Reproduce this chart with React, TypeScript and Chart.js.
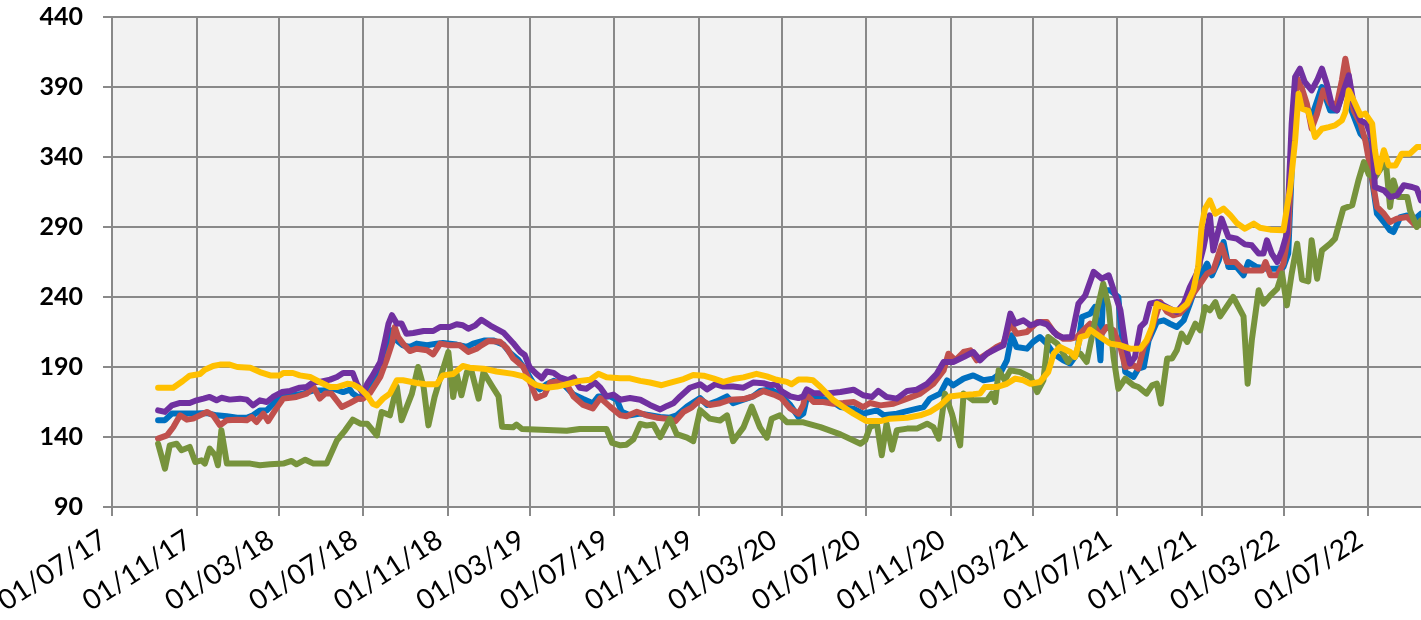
import { useEffect, useRef } from "react";
import { Chart, registerables } from "chart.js";

Chart.register(...registerables);

type Pt = [string, number];

const xTickDates = [
  "2017-07-01", "2017-11-01", "2018-03-01", "2018-07-01", "2018-11-01", "2019-03-01",
  "2019-07-01", "2019-11-01", "2020-03-01", "2020-07-01", "2020-11-01", "2021-03-01",
  "2021-07-01", "2021-11-01", "2022-03-01", "2022-07-01",
];
const xMinDate = "2017-07-01";
const xMaxDate = "2022-09-16";
const yTicks = [90, 140, 190, 240, 290, 340, 390, 440];

const yellowSeries: Pt[] = [
  ["2017-09-06",175.2],["2017-09-28",175.2],["2017-10-12",180],["2017-10-22",183.8],["2017-11-06",185],["2017-11-13",188],["2017-11-25",190.7],["2017-12-05",191.7],["2017-12-19",191.7],["2017-12-30",190],
  ["2018-01-18",189.5],["2018-02-01",186.4],["2018-02-16",184],["2018-03-02",184],["2018-03-07",185.7],["2018-03-21",185.7],["2018-03-31",184],["2018-04-15",182.9],["2018-04-29",179.3],["2018-05-14",175.7],
  ["2018-05-24",175.7],["2018-06-08",178],["2018-06-16",177.6],["2018-06-27",174.5],["2018-07-07",169.8],["2018-07-15",163.8],["2018-07-21",162.6],["2018-07-30",167.4],["2018-08-09",171],["2018-08-19",180.5],
  ["2018-08-28",180.5],["2018-09-17",178.6],["2018-10-02",177.6],["2018-10-16",177.6],["2018-10-25",184],["2018-11-09",185],["2018-11-23",190.7],["2018-12-03",189.5],["2018-12-23",188.8],["2019-01-11",186.8],
  ["2019-02-04",185.1],["2019-02-19",183.3],["2019-02-28",180.1],["2019-03-10",177],["2019-03-25",175.2],["2019-04-09",176],["2019-04-23",177.7],["2019-05-12",180.1],["2019-05-27",180.9],["2019-06-08",185.1],
  ["2019-06-20",182.6],["2019-07-10",181.9],["2019-07-24",181.9],["2019-08-08",180.1],["2019-08-22",178.9],["2019-09-08",177],["2019-09-25",179.4],["2019-10-10",181.4],["2019-10-24",184.3],["2019-11-08",183.8],
  ["2019-11-22",181.9],["2019-12-07",179.4],["2019-12-21",181.4],["2020-01-05",182.6],["2020-01-24",185.1],["2020-02-08",183.3],["2020-02-22",180.9],["2020-03-08",179.4],["2020-03-15",177.7],["2020-03-25",181],
  ["2020-04-06",181],["2020-04-15",180.5],["2020-04-26",175.7],["2020-05-15",166.2],["2020-05-29",161.4],["2020-06-13",156.7],["2020-07-02",151.4],["2020-07-22",151.4],["2020-08-05",153.1],["2020-08-30",153.8],
  ["2020-09-18",155.5],["2020-10-02",157.9],["2020-10-17",162.6],["2020-10-31",169],["2020-11-15",169.8],["2020-12-04",170.5],["2020-12-14",171],["2020-12-21",175.7],["2021-01-07",175.7],["2021-01-22",178],
  ["2021-02-03",181.7],["2021-02-15",180.5],["2021-02-25",178],["2021-03-11",179.3],["2021-03-23",186.4],["2021-03-31",199.5],["2021-04-09",204.3],["2021-04-24",200.7],["2021-05-01",197.1],["2021-05-09",211.4],
  ["2021-05-18",212.6],["2021-05-23",216.7],["2021-06-07",211.4],["2021-06-21",206.7],["2021-07-06",205.5],["2021-07-20",203.1],["2021-08-04",203.1],["2021-08-13",209],["2021-08-21",218.6],["2021-08-28",235.2],
  ["2021-09-07",232.9],["2021-09-21",230.5],["2021-09-30",230.5],["2021-10-11",235.2],["2021-10-20",244.8],["2021-10-27",261.4],["2021-11-01",290],["2021-11-06",303.1],["2021-11-13",309],["2021-11-21",299.5],
  ["2021-12-03",303.1],["2021-12-13",298.3],["2021-12-22",292.9],["2022-01-03",288.8],["2022-01-16",292.4],["2022-01-25",289.5],["2022-02-09",288.1],["2022-02-28",287.6],["2022-03-10",318.6],["2022-03-17",351.9],
  ["2022-03-22",385.2],["2022-03-27",374.5],["2022-04-05",372.9],["2022-04-15",354.3],["2022-04-25",360.2],["2022-05-05",361.4],["2022-05-14",362.6],["2022-05-24",366.2],["2022-05-29",372.1],["2022-06-03",387.6],
  ["2022-06-10",380.5],["2022-06-20",369.8],["2022-06-27",371],["2022-07-07",363.8],["2022-07-11",344.8],["2022-07-16",329.3],["2022-07-24",344.8],["2022-07-31",334],["2022-08-10",334],["2022-08-19",342.4],
  ["2022-08-31",342.4],["2022-09-10",347.1],["2022-09-23",347.1],
];

const purpleSeries: Pt[] = [
  ["2017-09-06",159],["2017-09-16",157.9],["2017-09-26",162.6],["2017-10-08",164.3],["2017-10-22",164.3],["2017-11-01",166.2],["2017-11-11",167.4],["2017-11-20",168.6],["2017-11-30",166.2],["2017-12-07",168],
  ["2017-12-19",166.7],["2018-01-03",167.4],["2018-01-13",166.7],["2018-01-22",162.6],["2018-02-01",166.2],["2018-02-11",165],["2018-02-20",168.6],["2018-03-05",172.1],["2018-03-17",172.9],["2018-03-31",175.2],
  ["2018-04-10",175.7],["2018-04-20",179.3],["2018-04-29",179.3],["2018-05-14",181],["2018-05-24",182.9],["2018-06-02",185.7],["2018-06-16",185.7],["2018-06-22",178],["2018-07-01",171],["2018-07-07",178],
  ["2018-07-15",184],["2018-07-26",193.6],["2018-08-02",209],["2018-08-07",221],["2018-08-12",227],["2018-08-19",221],["2018-08-26",221],["2018-09-02",213.8],["2018-09-12",214.3],["2018-09-27",215.7],
  ["2018-10-11",215.7],["2018-10-21",218.6],["2018-11-04",218.6],["2018-11-14",220.5],["2018-11-23",219.8],["2018-12-01",217.4],["2018-12-11",219.6],["2018-12-20",223.7],["2019-01-02",219.6],["2019-01-21",214.6],
  ["2019-02-04",207.2],["2019-02-14",201.1],["2019-02-21",198.6],["2019-02-28",190],["2019-03-10",185.1],["2019-03-18",181.9],["2019-03-25",186.8],["2019-04-04",185.8],["2019-04-13",182.6],["2019-04-25",180.6],
  ["2019-05-03",182.6],["2019-05-12",175.2],["2019-05-22",174.5],["2019-06-03",178.9],["2019-06-11",175.2],["2019-06-20",169],["2019-06-30",170.3],["2019-07-10",166.6],["2019-07-24",167.8],["2019-08-08",166.6],
  ["2019-08-22",162.9],["2019-09-06",159.7],["2019-09-16",162.2],["2019-09-25",164.1],["2019-10-05",169],["2019-10-19",175.2],["2019-11-03",177.7],["2019-11-13",174],["2019-11-25",177.7],["2019-12-07",176],
  ["2019-12-21",176],["2020-01-05",175.2],["2020-01-19",178.9],["2020-02-03",178.4],["2020-02-13",177],["2020-02-22",177.7],["2020-02-29",172.8],["2020-03-13",169],["2020-03-25",167.8],["2020-04-01",169],
  ["2020-04-06",174],["2020-04-16",171.4],["2020-05-05",171],["2020-05-25",172.1],["2020-06-13",173.8],["2020-06-27",169.8],["2020-07-10",168.6],["2020-07-19",172.9],["2020-07-31",168.6],["2020-08-15",167.4],
  ["2020-08-30",172.9],["2020-09-13",173.8],["2020-09-28",178],["2020-10-12",185.2],["2020-10-22",193.6],["2020-11-05",193.6],["2020-11-20",197.1],["2020-12-04",200.7],["2020-12-14",194.8],["2020-12-24",199.5],
  ["2021-01-07",203.1],["2021-01-17",205.5],["2021-01-27",228.1],["2021-02-03",221],["2021-02-15",223.3],["2021-02-25",219.8],["2021-03-11",222.1],["2021-03-21",220.5],["2021-04-05",212.6],["2021-04-14",211],
  ["2021-04-26",211.4],["2021-05-06",235.2],["2021-05-16",241.2],["2021-05-28",257.9],["2021-06-09",253.1],["2021-06-19",255.5],["2021-06-28",242.4],["2021-07-06",230.5],["2021-07-13",206.7],["2021-07-20",192.4],
  ["2021-07-27",197],["2021-08-04",218.6],["2021-08-11",222.1],["2021-08-18",235.2],["2021-08-28",236.4],["2021-09-07",234],["2021-09-16",231.7],["2021-09-26",229.3],["2021-10-06",235.2],["2021-10-15",247.1],
  ["2021-10-25",256.7],["2021-11-04",275.7],["2021-11-13",298.3],["2021-11-18",273.3],["2021-11-30",296],["2021-12-10",282.9],["2021-12-22",281.7],["2022-01-03",277.6],["2022-01-13",276.9],["2022-01-23",271],
  ["2022-01-30",271],["2022-02-04",280.5],["2022-02-11",271],["2022-02-19",265],["2022-02-26",273.3],["2022-03-05",285.2],["2022-03-12",363.8],["2022-03-17",397.1],["2022-03-24",403.1],["2022-03-31",393.6],
  ["2022-04-10",387.6],["2022-04-18",394.8],["2022-04-25",403.1],["2022-05-02",392.4],["2022-05-10",375.7],["2022-05-17",373.3],["2022-05-26",386.4],["2022-06-03",398.3],["2022-06-10",378.1],["2022-06-20",366.2],
  ["2022-06-29",363.8],["2022-07-07",353.1],["2022-07-11",318.6],["2022-07-24",316.2],["2022-08-02",311.4],["2022-08-12",312.6],["2022-08-22",319.8],["2022-09-03",318.6],["2022-09-10",317.4],["2022-09-16",309],
  ["2022-09-23",308],
];

const redSeries: Pt[] = [
  ["2017-09-06",138.8],["2017-09-19",141.2],["2017-09-28",147],["2017-10-08",155.5],["2017-10-18",152.4],["2017-10-27",153.1],["2017-11-16",157.9],["2017-11-25",155.5],["2017-12-05",148.3],["2017-12-15",152],
  ["2017-12-30",152.4],["2018-01-13",152],["2018-01-20",154.3],["2018-01-27",150.7],["2018-02-06",156.7],["2018-02-13",151.4],["2018-02-23",159],["2018-03-07",167.4],["2018-03-17",168],["2018-03-26",168.6],
  ["2018-04-10",171],["2018-04-20",175.7],["2018-04-29",167.4],["2018-05-07",171],["2018-05-16",171],["2018-05-31",161.4],["2018-06-12",164.3],["2018-06-24",167.4],["2018-07-01",167.4],["2018-07-11",171.4],
  ["2018-07-26",182.9],["2018-08-04",194.8],["2018-08-12",206.7],["2018-08-16",218.6],["2018-08-21",211.4],["2018-08-28",206.7],["2018-09-07",201.4],["2018-09-17",203.1],["2018-10-02",202],["2018-10-11",199],
  ["2018-10-21",206.7],["2018-11-04",205.5],["2018-11-19",205.5],["2018-12-01",200.7],["2018-12-13",203.1],["2018-12-18",204.8],["2018-12-30",208.5],["2019-01-16",208],["2019-01-26",203.5],["2019-02-04",196.2],
  ["2019-02-19",190],["2019-02-28",180.1],["2019-03-10",167.8],["2019-03-22",170.3],["2019-03-30",178.9],["2019-04-09",179.4],["2019-04-23",177.7],["2019-05-03",169],["2019-05-17",162.9],["2019-05-31",160.4],
  ["2019-06-11",167.8],["2019-06-25",161.7],["2019-07-10",155.5],["2019-07-19",154.8],["2019-08-03",158],["2019-08-17",155.5],["2019-09-01",153.8],["2019-09-16",153.1],["2019-09-28",151.3],["2019-10-10",158],
  ["2019-10-22",161.2],["2019-11-03",166.6],["2019-11-17",162.9],["2019-12-02",164.1],["2019-12-17",166.6],["2020-01-05",167.1],["2020-01-19",169],["2020-02-03",172.8],["2020-02-18",170.3],["2020-02-29",167.8],
  ["2020-03-13",160.4],["2020-03-25",156.7],["2020-04-01",162.9],["2020-04-04",171],["2020-04-16",165],["2020-04-30",165],["2020-05-15",163.8],["2020-05-29",164.3],["2020-06-13",165],["2020-06-27",161.4],
  ["2020-07-07",164.3],["2020-07-22",162.6],["2020-08-10",163.8],["2020-08-30",167.4],["2020-09-18",171],["2020-10-07",178],["2020-10-22",187.6],["2020-10-29",199.5],["2020-11-08",194.8],["2020-11-20",200.7],
  ["2020-11-30",201.9],["2020-12-09",194.8],["2020-12-24",199.5],["2021-01-07",204.3],["2021-01-17",206.7],["2021-01-27",221],["2021-02-05",213.8],["2021-02-20",215],["2021-03-07",222.1],["2021-03-21",222.1],
  ["2021-03-31",215],["2021-04-14",210.2],["2021-04-24",210.2],["2021-05-04",211.4],["2021-05-13",216.2],["2021-05-23",221],["2021-05-30",218.6],["2021-06-07",212.6],["2021-06-16",218.6],["2021-06-26",216.2],
  ["2021-07-06",204.3],["2021-07-13",190],["2021-07-25",191.2],["2021-08-01",188.8],["2021-08-09",204.3],["2021-08-16",210.2],["2021-08-26",225.7],["2021-09-02",236.4],["2021-09-12",229.3],["2021-09-21",226.9],
  ["2021-09-30",228.1],["2021-10-11",234],["2021-10-20",242.4],["2021-10-30",249.5],["2021-11-09",256.7],["2021-11-18",259],["2021-11-30",276.9],["2021-12-08",265],["2021-12-20",265],["2022-01-01",259],
  ["2022-01-16",259],["2022-01-28",259],["2022-02-02",265],["2022-02-09",255.5],["2022-02-19",255.5],["2022-02-28",263.8],["2022-03-07",285.2],["2022-03-15",371],["2022-03-20",396],["2022-03-27",388.8],
  ["2022-04-03",378.1],["2022-04-10",360.2],["2022-04-18",371],["2022-04-27",387.6],["2022-05-07",378.1],["2022-05-17",378.1],["2022-05-24",394.8],["2022-05-29",410.2],["2022-06-03",397.1],["2022-06-10",373.3],
  ["2022-06-20",363.8],["2022-06-27",351.9],["2022-07-04",332.9],["2022-07-14",304.3],["2022-07-24",299.5],["2022-08-02",293.6],["2022-08-12",296],["2022-08-27",297.1],["2022-09-08",291.2],["2022-09-16",292],
  ["2022-09-23",292],
];

const blueSeries: Pt[] = [
  ["2017-09-06",152],["2017-09-16",152],["2017-09-26",156.7],["2017-10-12",156.7],["2017-11-01",156.7],["2017-11-16",157.1],["2017-11-30",155.5],["2017-12-15",154.8],["2017-12-30",153.8],["2018-01-13",153.8],
  ["2018-01-22",155.5],["2018-02-01",159],["2018-02-11",159],["2018-02-25",166.2],["2018-03-07",169.8],["2018-03-21",169.8],["2018-04-05",171],["2018-04-20",173.3],["2018-05-04",173.3],["2018-05-19",174.5],
  ["2018-06-02",172.1],["2018-06-12",173.8],["2018-06-16",171],["2018-06-27",167.4],["2018-07-07",175.7],["2018-07-15",180.5],["2018-07-26",190],["2018-08-04",205.5],["2018-08-12",216.2],["2018-08-19",209],
  ["2018-08-28",205.5],["2018-09-07",204.3],["2018-09-17",206.7],["2018-10-02",205.5],["2018-10-16",206.7],["2018-10-25",207.1],["2018-11-14",206],["2018-11-29",204.3],["2018-12-08",206.7],["2018-12-25",209],
  ["2019-01-06",209],["2019-01-21",206],["2019-01-31",199.9],["2019-02-12",194.9],["2019-02-21",188.8],["2019-03-05",178.9],["2019-03-15",174],["2019-03-25",177.7],["2019-04-04",180.1],["2019-04-18",177.7],
  ["2019-05-03",170.3],["2019-05-17",167.1],["2019-05-31",164.1],["2019-06-08",169],["2019-06-25",169],["2019-07-05",166.6],["2019-07-12",158],["2019-07-24",155.5],["2019-08-08",156.7],["2019-08-22",155.5],
  ["2019-09-06",154.3],["2019-09-20",153.8],["2019-09-30",155.5],["2019-10-15",161.7],["2019-11-03",167.8],["2019-11-13",162.9],["2019-11-27",165.4],["2019-12-12",169],["2019-12-21",164.1],["2020-01-05",166.6],
  ["2020-01-19",169],["2020-01-29",172.8],["2020-02-13",174],["2020-02-27",170.3],["2020-03-13",162.9],["2020-03-25",154.3],["2020-04-01",156.7],["2020-04-06",167.8],["2020-04-16",168.6],["2020-04-26",167.4],
  ["2020-05-10",166.2],["2020-05-25",161.4],["2020-06-13",160.2],["2020-06-27",156.7],["2020-07-17",159],["2020-07-27",155.5],["2020-08-15",156.7],["2020-09-03",159],["2020-09-23",161.4],["2020-10-02",167.4],
  ["2020-10-17",171],["2020-10-27",180.5],["2020-11-05",176.9],["2020-11-20",181.7],["2020-12-04",184],["2020-12-19",180.5],["2021-01-02",181.7],["2021-01-12",185.2],["2021-01-22",194.8],["2021-01-29",212.6],
  ["2021-02-05",204.3],["2021-02-20",203.1],["2021-03-01",207.9],["2021-03-11",211.4],["2021-03-21",206.7],["2021-03-31",199.5],["2021-04-14",194.8],["2021-04-24",192.4],["2021-05-04",199.5],["2021-05-11",225.7],
  ["2021-05-23",228.1],["2021-05-30",232.9],["2021-06-07",194.8],["2021-06-11",244.8],["2021-06-21",244.8],["2021-07-03",240],["2021-07-08",211.4],["2021-07-13",186.4],["2021-07-25",182.9],["2021-08-01",188.8],
  ["2021-08-09",190],["2021-08-16",209],["2021-08-28",222.1],["2021-09-07",223.3],["2021-09-16",220.9],["2021-09-26",218.6],["2021-10-06",223.3],["2021-10-15",235.2],["2021-10-25",249.5],["2021-11-09",263.8],
  ["2021-11-16",255.5],["2021-11-26",266.2],["2021-12-03",279.3],["2021-12-10",261.4],["2021-12-22",261.4],["2022-01-01",255.5],["2022-01-08",265],["2022-01-20",261.4],["2022-02-04",260.2],["2022-02-19",260.2],
  ["2022-02-28",261.4],["2022-03-07",271],["2022-03-15",366.2],["2022-03-20",384],["2022-03-29",380.5],["2022-04-10",368.6],["2022-04-25",390],["2022-05-07",373.3],["2022-05-17",373.3],["2022-05-29",392.4],
  ["2022-06-05",375.7],["2022-06-20",356.7],["2022-06-29",351.9],["2022-07-07",323.3],["2022-07-14",299.5],["2022-07-24",293.6],["2022-08-02",287.6],["2022-08-07",286.4],["2022-08-17",297.1],["2022-08-27",298.3],
  ["2022-09-08",296],["2022-09-16",299.5],["2022-09-23",299],
];

const greenSeries: Pt[] = [
  ["2017-09-06",135.2],["2017-09-16",117.4],["2017-09-23",134],["2017-10-03",135.2],["2017-10-10",130.5],["2017-10-22",132.9],["2017-10-30",122.1],["2017-11-08",123.3],["2017-11-13",121],["2017-11-20",131.7],
  ["2017-11-28",126.9],["2017-12-02",119.8],["2017-12-07",144.8],["2017-12-15",121],["2018-01-18",121],["2018-02-01",119.8],["2018-02-16",120.5],["2018-03-07",121],["2018-03-19",122.9],["2018-03-26",120.5],
  ["2018-04-08",123.8],["2018-04-20",121],["2018-05-09",121],["2018-05-24",137.6],["2018-06-05",144.8],["2018-06-16",152.4],["2018-06-27",149.5],["2018-07-07",149.5],["2018-07-13",146],["2018-07-21",141.2],
  ["2018-07-28",157.9],["2018-08-09",155.5],["2018-08-19",176],["2018-08-26",152],["2018-09-10",171],["2018-09-19",190],["2018-09-27",175.7],["2018-10-04",148.3],["2018-10-13",168.6],["2018-10-23",185],
  ["2018-11-02",200.7],["2018-11-09",168.6],["2018-11-14",185],["2018-11-21",169.8],["2018-11-29",186.4],["2018-12-06",186.4],["2018-12-16",167.4],["2018-12-23",186.3],["2019-01-06",175.2],["2019-01-14",169],
  ["2019-01-19",147.4],["2019-02-04",146.9],["2019-02-09",148.9],["2019-02-17",145.7],["2019-04-04",144.9],["2019-04-23",144.4],["2019-05-12",145.7],["2019-06-20",145.7],["2019-06-28",135.8],["2019-07-10",134.1],
  ["2019-07-19",134.5],["2019-07-29",138.3],["2019-08-08",149.4],["2019-08-17",148.2],["2019-08-27",148.9],["2019-09-06",140],["2019-09-20",153.1],["2019-09-30",142],["2019-10-15",139.5],["2019-10-24",137],
  ["2019-11-03",159.2],["2019-11-17",153.1],["2019-12-02",151.8],["2019-12-12",155.5],["2019-12-21",137],["2020-01-05",146.9],["2020-01-17",161.7],["2020-01-29",146.9],["2020-02-08",139.5],["2020-02-15",153.1],
  ["2020-02-27",155.5],["2020-03-08",150.6],["2020-04-01",150.5],["2020-04-26",147.1],["2020-05-25",141.9],["2020-06-23",135.2],["2020-06-30",137.6],["2020-07-07",147.1],["2020-07-17",149.5],["2020-07-24",126.9],
  ["2020-07-31",149.5],["2020-08-08",131],["2020-08-15",144.8],["2020-08-30",146],["2020-09-13",146],["2020-09-28",149.5],["2020-10-07",147.1],["2020-10-15",138.8],["2020-10-24",171],["2020-11-03",156.7],
  ["2020-11-15",134],["2020-11-20",171],["2020-12-04",166.2],["2020-12-24",166.2],["2020-12-31",171],["2021-01-05",165],["2021-01-10",187.6],["2021-01-19",180.5],["2021-01-27",187.6],["2021-02-10",186.4],
  ["2021-02-25",182.9],["2021-03-07",172.1],["2021-03-16",180.5],["2021-03-23",211.4],["2021-04-05",206.7],["2021-04-14",199.5],["2021-04-21",193.6],["2021-04-29",199.5],["2021-05-09",199.5],["2021-05-18",193.6],
  ["2021-05-26",212.6],["2021-06-02",230.5],["2021-06-11",249.5],["2021-06-19",232.9],["2021-06-26",197.1],["2021-07-03",174.5],["2021-07-13",181.7],["2021-07-25",176.9],["2021-08-01",175.7],["2021-08-13",171],
  ["2021-08-21",176.9],["2021-08-28",178.1],["2021-09-03",163.8],["2021-09-12",196],["2021-09-19",196],["2021-09-26",201.9],["2021-10-03",213.8],["2021-10-11",207.9],["2021-10-23",220.9],["2021-10-30",216.2],
  ["2021-11-06",232.9],["2021-11-13",230.5],["2021-11-21",236.4],["2021-11-28",226.2],["2021-12-17",240],["2022-01-01",226.2],["2022-01-07",178.1],["2022-01-13",209],["2022-01-23",244.8],["2022-01-30",235.2],
  ["2022-02-09",241.2],["2022-02-19",246],["2022-02-26",256.7],["2022-03-05",234],["2022-03-12",256.7],["2022-03-20",278.1],["2022-03-27",252.4],["2022-04-05",251.2],["2022-04-10",280.5],["2022-04-18",253.1],
  ["2022-04-25",273.3],["2022-05-07",278.1],["2022-05-14",281.7],["2022-05-26",303.1],["2022-06-08",305.5],["2022-06-17",323.3],["2022-06-25",336.4],["2022-07-02",327.6],["2022-07-11",325.2],["2022-07-19",331.4],
  ["2022-07-26",341.2],["2022-08-02",304.3],["2022-08-07",323.3],["2022-08-14",311.4],["2022-08-27",311.4],["2022-08-31",301.9],["2022-09-10",290],["2022-09-16",294.8],["2022-09-23",295],
];

const toXY = (pts: Pt[]) => pts.map(([d, v]) => ({ x: Date.parse(d), y: v }));
const pad2 = (n: number) => String(n).padStart(2, "0");
const fmtDate = (ms: number) => {
  const d = new Date(ms);
  return `${pad2(d.getUTCDate())}/${pad2(d.getUTCMonth() + 1)}/${pad2(d.getUTCFullYear() % 100)}`;
};

const plotBg = {
  id: "plotBg",
  beforeDraw(chart: any) {
    const { ctx, chartArea: a } = chart;
    ctx.save();
    ctx.fillStyle = "#f2f2f2";
    ctx.fillRect(a.left, a.top, a.right - a.left, a.bottom - a.top);
    ctx.restore();
  },
};

export default function App() {
  const ref = useRef<HTMLCanvasElement>(null);
  useEffect(() => {
    const line = (pts: Pt[], color: string) => ({
      data: toXY(pts),
      borderColor: color,
      backgroundColor: color,
      borderWidth: 6,
      pointRadius: 0,
      pointHoverRadius: 0,
      tension: 0,
      fill: false,
      borderJoinStyle: "round" as const,
      borderCapStyle: "round" as const,
    });
    const gridColor = "#898989";
    const chart = new Chart(ref.current as HTMLCanvasElement, {
      type: "line",
      data: {
        datasets: [
          line(yellowSeries, "#FFC000"),
          line(purpleSeries, "#7030A0"),
          line(greenSeries, "#77933C"),
          line(redSeries, "#C0504D"),
          line(blueSeries, "#0070C0"),
        ],
      },
      plugins: [plotBg],
      options: {
        animation: false,
        responsive: true,
        maintainAspectRatio: false,
        layout: { padding: { top: 17, left: 0, right: 0, bottom: 0 } },
        plugins: { legend: { display: false }, tooltip: { enabled: false } },
        scales: {
          x: {
            type: "linear",
            min: Date.parse(xMinDate),
            max: Date.parse(xMaxDate),
            afterBuildTicks: (s: any) => {
              s.ticks = xTickDates.map((d) => ({ value: Date.parse(d) }));
            },
            afterFit: (s: any) => {
              s.height = 113;
              s.paddingLeft = 0;
              s.paddingRight = 0;
            },
            grid: { color: gridColor, lineWidth: 2, tickLength: 9 },
            border: { color: gridColor, width: 2 },
            ticks: {
              autoSkip: false,
              minRotation: 33,
              maxRotation: 33,
              padding: 7,
              labelOffset: -8,
              color: "#000",
              font: { family: "Lato", size: 28 },
              callback: (v: any) => fmtDate(Number(v)),
            },
          },
          y: {
            type: "linear",
            min: yTicks[0],
            max: yTicks[yTicks.length - 1],
            afterBuildTicks: (s: any) => {
              s.ticks = yTicks.map((v) => ({ value: v }));
            },
            afterFit: (s: any) => {
              s.width = 112;
              s.paddingTop = 0;
              s.paddingBottom = 0;
            },
            grid: { color: gridColor, lineWidth: 2, tickLength: 9 },
            border: { color: gridColor, width: 2 },
            ticks: {
              padding: 20,
              color: "#000",
              font: { family: "Lato", size: 25, weight: "bold" },
            },
          },
        },
      },
    } as any);
    return () => chart.destroy();
  }, []);
  return (
    <div style={{ position: "absolute", left: 0, top: 0, width: 1421, height: 620 }}>
      <canvas ref={ref} />
    </div>
  );
}
